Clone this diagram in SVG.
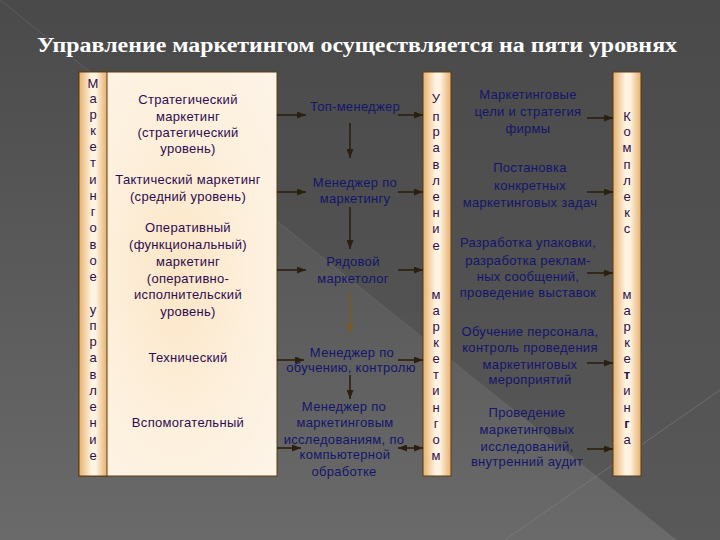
<svg xmlns="http://www.w3.org/2000/svg" width="720" height="540" viewBox="0 0 720 540">
<defs>
<linearGradient id="bgv" x1="0" y1="0" x2="0" y2="1">
<stop offset="0" stop-color="#4a4a4a"/>
<stop offset="1" stop-color="#6a6a6a"/>
</linearGradient>
<linearGradient id="bar" x1="0" y1="0" x2="1" y2="0">
<stop offset="0" stop-color="#e6b06c"/>
<stop offset="0.45" stop-color="#fff4e2"/>
<stop offset="0.6" stop-color="#fff4e2"/>
<stop offset="1" stop-color="#e6b06c"/>
</linearGradient>
<radialGradient id="box" cx="0.5" cy="0.5" r="0.7">
<stop offset="0" stop-color="#fce6c6"/>
<stop offset="0.5" stop-color="#fdefdb"/>
<stop offset="1" stop-color="#fdf4e8"/>
</radialGradient>
<marker id="ah" markerWidth="9" markerHeight="7" refX="9" refY="3.5" orient="auto" markerUnits="userSpaceOnUse">
<path d="M0,0 L9,3.5 L0,7 Z" fill="#2b1f10"/>
</marker>
<marker id="ahs" markerWidth="9" markerHeight="7" refX="0" refY="3.5" orient="auto" markerUnits="userSpaceOnUse">
<path d="M9,0 L0,3.5 L9,7 Z" fill="#2b1f10"/>
</marker>
<marker id="aho" markerWidth="9" markerHeight="7" refX="9" refY="3.5" orient="auto" markerUnits="userSpaceOnUse">
<path d="M0,0 L9,3.5 L0,7 Z" fill="#7a5a20"/>
</marker>
<style>
.t{font-family:"Liberation Sans",Arial,sans-serif;font-size:13px;letter-spacing:0.3px;text-anchor:middle}
.lt{fill:#2e0c50}
.mt{fill:#15156c}
.v{font-family:"Liberation Sans",Arial,sans-serif;font-size:13px;text-anchor:middle;fill:#2e1048}
.edge{stroke:#5a3c14;stroke-width:1}
.ar{stroke:#2b1f10;stroke-width:1.6;fill:none;marker-end:url(#ah)}
</style>
</defs>

<g id="background">
<rect width="720" height="540" fill="url(#bgv)"/>
<polygon points="0,0 720,0 720,575" fill="#4b4b4b" opacity="0.55"/>
<line x1="720" y1="390" x2="505" y2="540" stroke="#8a8a8a" stroke-width="0.8" opacity="0.6"/>
<line x1="0" y1="0" x2="720" y2="575" stroke="#7a7a7a" stroke-width="0.8" opacity="0.5"/>
</g>

<text x="37" y="52" fill="#ffffff" font-family="'Liberation Serif','Times New Roman',serif" font-size="20" font-weight="bold" textLength="640" lengthAdjust="spacingAndGlyphs">Управление маркетингом осуществляется на пяти уровнях</text>

<g id="levels">
<rect x="79" y="72" width="198" height="404" fill="url(#box)" class="edge"/>
<rect x="79" y="72" width="28" height="404" fill="url(#bar)" class="edge"/>
<text class="t lt" x="188" y="104">Стратегический</text>
<text class="t lt" x="188" y="121">маркетинг</text>
<text class="t lt" x="188" y="137">(стратегический</text>
<text class="t lt" x="188" y="153">уровень)</text>
<text class="t lt" x="188" y="184">Тактический маркетинг</text>
<text class="t lt" x="188" y="201">(средний уровень)</text>
<text class="t lt" x="188" y="232">Оперативный</text>
<text class="t lt" x="188" y="249">(функциональный)</text>
<text class="t lt" x="188" y="266">маркетинг</text>
<text class="t lt" x="188" y="283">(оперативно-</text>
<text class="t lt" x="188" y="299">исполнительский</text>
<text class="t lt" x="188" y="316">уровень)</text>
<text class="t lt" x="188" y="362">Технический</text>
<text class="t lt" x="188" y="427">Вспомогательный</text>
<g class="v">
<text x="93" y="88">М</text><text x="93" y="103">а</text><text x="93" y="119">р</text><text x="93" y="135">к</text><text x="93" y="151">е</text><text x="93" y="167">т</text><text x="93" y="184">и</text><text x="93" y="200">н</text><text x="93" y="216">г</text><text x="93" y="232">о</text><text x="93" y="249">в</text><text x="93" y="265">о</text><text x="93" y="281">е</text><text x="93" y="314">у</text><text x="93" y="330">п</text><text x="93" y="346">р</text><text x="93" y="362">а</text><text x="93" y="379">в</text><text x="93" y="395">л</text><text x="93" y="411">е</text><text x="93" y="427">н</text><text x="93" y="444">и</text><text x="93" y="460">е</text>
</g>
</g>

<g id="managers">
<text class="t mt" x="355" y="111">Топ-менеджер</text>
<text class="t mt" x="355" y="187">Менеджер по</text>
<text class="t mt" x="355" y="203">маркетингу</text>
<text class="t mt" x="353" y="266">Рядовой</text>
<text class="t mt" x="353" y="283">маркетолог</text>
<text class="t mt" x="352" y="357">Менеджер по</text>
<text class="t mt" x="351" y="372">обучению, контролю</text>
<text class="t mt" x="344" y="411">Менеджер по</text>
<text class="t mt" x="345" y="427">маркетинговым</text>
<text class="t mt" x="344" y="444">исследованиям, по</text>
<text class="t mt" x="345" y="459">компьютерной</text>
<text class="t mt" x="344" y="476">обработке</text>
</g>

<g id="management-bar">
<rect x="423" y="72" width="28" height="404" fill="url(#bar)" class="edge"/>
<g class="v">
<text x="436" y="103">У</text><text x="436" y="121">п</text><text x="436" y="136">р</text><text x="436" y="152">а</text><text x="436" y="169">в</text><text x="436" y="185">л</text><text x="436" y="201">е</text><text x="436" y="217">н</text><text x="436" y="233">и</text><text x="436" y="250">е</text>
<text x="436" y="299">м</text><text x="436" y="315">а</text><text x="436" y="331">р</text><text x="436" y="347">к</text><text x="436" y="363">е</text><text x="436" y="379">т</text><text x="436" y="395">и</text><text x="436" y="412">н</text><text x="436" y="428">г</text><text x="436" y="444">о</text><text x="436" y="460">м</text>
</g>
</g>

<g id="tasks">
<text class="t mt" x="528" y="99">Маркетинговые</text>
<text class="t mt" x="528" y="116">цели и стратегия</text>
<text class="t mt" x="528" y="133">фирмы</text>
<text class="t mt" x="530" y="172">Постановка</text>
<text class="t mt" x="530" y="190">конкретных</text>
<text class="t mt" x="530" y="207">маркетинговых задач</text>
<text class="t mt" x="528" y="247">Разработка упаковки,</text>
<text class="t mt" x="528" y="265">разработка реклам-</text>
<text class="t mt" x="528" y="281">ных сообщений,</text>
<text class="t mt" x="528" y="297">проведение выставок</text>
<text class="t mt" x="530" y="336">Обучение персонала,</text>
<text class="t mt" x="530" y="352">контроль проведения</text>
<text class="t mt" x="530" y="369">маркетинговых</text>
<text class="t mt" x="530" y="384">мероприятий</text>
<text class="t mt" x="527" y="417">Проведение</text>
<text class="t mt" x="527" y="434">маркетинговых</text>
<text class="t mt" x="527" y="451">исследований,</text>
<text class="t mt" x="527" y="466">внутренний аудит</text>
</g>

<g id="complex-bar">
<rect x="613" y="72" width="28" height="404" fill="url(#bar)" class="edge"/>
<g class="v">
<text x="627" y="121">К</text><text x="627" y="136">о</text><text x="627" y="152">м</text><text x="627" y="169">п</text><text x="627" y="185">л</text><text x="627" y="201">е</text><text x="627" y="217">к</text><text x="627" y="233">с</text>
<text x="627" y="299">м</text><text x="627" y="315">а</text><text x="627" y="331">р</text><text x="627" y="347">к</text><text x="627" y="363">е</text><text x="627" y="379" font-weight="bold">т</text><text x="627" y="395">и</text><text x="627" y="412">н</text><text x="627" y="428" font-weight="bold">г</text><text x="627" y="444">а</text>
</g>
</g>

<g id="connectors">
<line class="ar" x1="277" y1="115" x2="306" y2="115"/>
<line class="ar" x1="277" y1="192" x2="306" y2="192"/>
<line class="ar" x1="277" y1="270" x2="306" y2="270"/>
<line class="ar" x1="277" y1="360" x2="304" y2="360"/>
<line class="ar" x1="277" y1="448" x2="301" y2="448"/>
<line class="ar" x1="398" y1="115" x2="423" y2="115"/>
<line class="ar" x1="398" y1="192" x2="423" y2="192"/>
<line class="ar" x1="398" y1="270" x2="423" y2="270"/>
<line class="ar" x1="398" y1="360" x2="423" y2="360"/>
<line class="ar" x1="398" y1="448" x2="423" y2="448" marker-start="url(#ahs)"/>
<line class="ar" x1="350" y1="123" x2="350" y2="158"/>
<line class="ar" x1="350" y1="207" x2="350" y2="249"/>
<line x1="350" y1="292" x2="350" y2="333" stroke="#7a5a20" stroke-width="1.6" marker-end="url(#aho)"/>
<line class="ar" x1="350" y1="375" x2="350" y2="399"/>
<line class="ar" x1="587" y1="118" x2="613" y2="118"/>
<line class="ar" x1="587" y1="192" x2="613" y2="192"/>
<line class="ar" x1="587" y1="273" x2="613" y2="273"/>
<line class="ar" x1="587" y1="363" x2="613" y2="363"/>
<line class="ar" x1="587" y1="449" x2="613" y2="449"/>
</g>
</svg>
